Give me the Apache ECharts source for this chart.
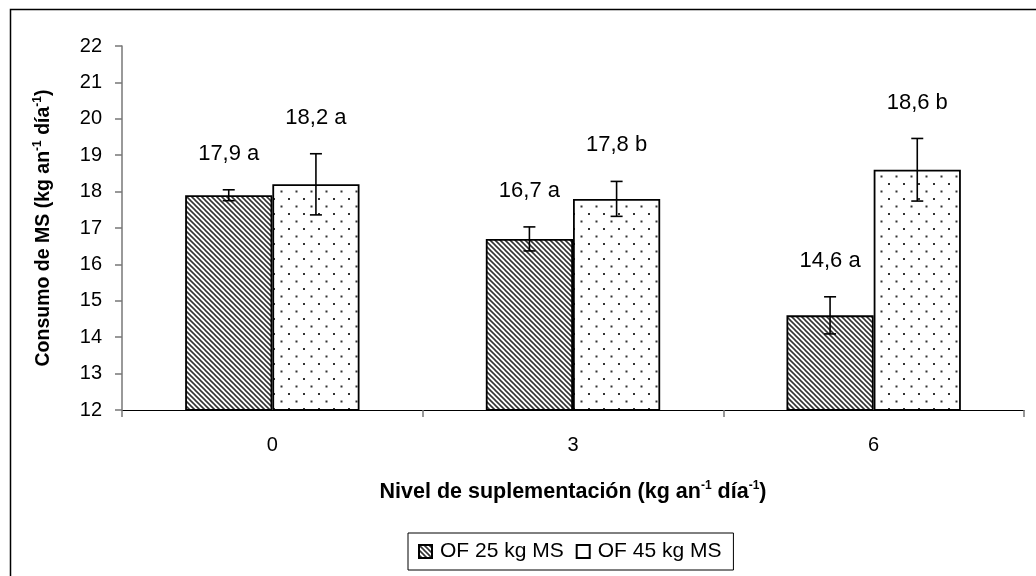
<!DOCTYPE html>
<html><head><meta charset="utf-8">
<script src="https://cdn.jsdelivr.net/npm/echarts@6/dist/echarts.min.js"></script>
<style>html,body{margin:0;padding:0;background:#fff}#c{width:1036px;height:576px}</style>
</head><body><div id="c"></div>
<script>
const categories = ['0', '3', '6'];
const seriesNames = ['OF 25 kg MS', 'OF 45 kg MS'];
const of25 = [17.9, 16.7, 14.6];
const of45 = [18.2, 17.8, 18.6];
const of25Err = [0.15, 0.33, 0.51];
const of45Err = [0.84, 0.48, 0.86];
const of25Letters = ['a', 'a', 'a'];
const of45Letters = ['a', 'b', 'b'];
const yTicks = [12, 13, 14, 15, 16, 17, 18, 19, 20, 21, 22];

function hatchPattern() {
  const p = 5, c = document.createElement('canvas');
  c.width = p; c.height = p;
  const g = c.getContext('2d');
  g.fillStyle = '#fff'; g.fillRect(0, 0, p, p);
  g.strokeStyle = '#333'; g.lineWidth = 1.6;
  for (const k of [-p, 0, p]) {
    g.beginPath(); g.moveTo(k - 1, -1); g.lineTo(k + p + 1, p + 1); g.stroke();
  }
  return c;
}
function dotPattern() {
  const w = 15, h = 15, c = document.createElement('canvas');
  c.width = w; c.height = h;
  const g = c.getContext('2d');
  g.fillStyle = '#fff'; g.fillRect(0, 0, w, h);
  g.fillStyle = '#333';
  g.fillRect(3, 3, 2, 2);
  g.fillRect(10.5, 10.5, 2, 2);
  return c;
}
const hatch = { image: hatchPattern(), repeat: 'repeat' };
const dots = { image: dotPattern(), repeat: 'repeat' };

function fmt(v, l) { return v.toFixed(1).replace('.', ',') + ' ' + l; }

function errSeries(vals, errs, letters, side) {
  return {
    type: 'custom',
    z: 5,
    silent: true,
    data: vals.map((v, i) => [i, v, errs[i]]),
    renderItem: function (params, api) {
      const i = api.value(0), v = api.value(1), e = api.value(2);
      const bw = api.size([1, 0])[0] * 0.29;
      const cx = api.coord([i, v])[0] + side * bw / 2;
      const top = api.coord([i, v + e])[1];
      const bot = api.coord([i, v - e])[1];
      const cap = 6;
      const st = { stroke: '#000', lineWidth: 1.6 };
      return {
        type: 'group',
        children: [
          { type: 'line', shape: { x1: cx, y1: top, x2: cx, y2: bot }, style: st },
          { type: 'line', shape: { x1: cx - cap, y1: top, x2: cx + cap, y2: top }, style: st },
          { type: 'line', shape: { x1: cx - cap, y1: bot, x2: cx + cap, y2: bot }, style: st },
          { type: 'text', x: cx, y: top - 36, style: {
              text: fmt(v, letters[i]), fill: '#000', align: 'center', verticalAlign: 'middle',
              font: '22px "Liberation Sans", Arial, sans-serif' } }
        ]
      };
    }
  };
}

const chart = echarts.init(document.getElementById('c'));
const ff = '"Liberation Sans", Arial, sans-serif';
function titleRich(size) {
  return {
    b: { fontSize: size, fontWeight: 'bold', color: '#000', fontFamily: ff, lineHeight: 24 },
    s: { fontSize: 12, fontWeight: 'bold', color: '#000', fontFamily: ff, verticalAlign: 'top', lineHeight: 24, padding: [0, 0, 10, 0] }
  };
}
chart.setOption({
  animation: false,
  textStyle: { fontFamily: ff },
  graphic: [{ type: 'rect', left: 8, top: 7, shape: { width: 1040, height: 580 },
    style: { fill: 'none', stroke: '#000', lineWidth: 1.5 }, silent: true }],
  grid: { left: 122, right: 12, top: 46, bottom: 166 },
  legend: {
    data: [{ name: seriesNames[0] }, { name: seriesNames[1], itemStyle: { color: '#fff' } }],
    left: 408, top: 533,
    borderColor: '#000', borderWidth: 1, padding: [8, 12, 8, 10],
    itemWidth: 13, itemHeight: 13, itemGap: 12,
    textStyle: { fontSize: 21, color: '#000', fontFamily: ff, padding: [0, 0, 0, 3] },
    icon: 'rect'
  },
  xAxis: {
    type: 'category', data: categories,
    axisLine: { lineStyle: { color: '#000', width: 1.2 } },
    axisTick: { show: true, length: 7, alignWithLabel: false, lineStyle: { color: '#777', width: 1.5 } },
    axisLabel: { fontSize: 20, color: '#000', margin: 25, fontFamily: ff },
    name: '{b|Nivel de suplementación (kg an}{s|-1}{b| día}{s|-1}{b|)}',
    nameLocation: 'middle', nameGap: 70,
    nameTextStyle: { rich: titleRich(21.5) }
  },
  yAxis: {
    type: 'value', min: 12, max: 22, interval: 1,
    axisLine: { show: true, lineStyle: { color: '#777', width: 1.5 } },
    axisTick: { show: true, length: 7, lineStyle: { color: '#777', width: 1.5 } },
    splitLine: { show: false },
    axisLabel: { fontSize: 20, color: '#000', margin: 20, fontFamily: ff,
      formatter: v => yTicks.includes(v) ? String(v) : '' },
    name: '{b|Consumo de MS (kg an}{s|-1}{b| día}{s|-1}{b|)}',
    nameLocation: 'middle', nameGap: 66, nameRotate: 90,
    nameTextStyle: { rich: titleRich(19.5) }
  },
  series: [
    { name: seriesNames[0], type: 'bar', data: of25, barGap: '0%', barCategoryGap: '42%',
      itemStyle: { color: hatch, borderColor: '#000', borderWidth: 1.8 } },
    { name: seriesNames[1], type: 'bar', data: of45,
      itemStyle: { color: dots, borderColor: '#000', borderWidth: 1.8 } },
    errSeries(of25, of25Err, of25Letters, -1),
    errSeries(of45, of45Err, of45Letters, 1)
  ]
});
</script></body></html>
